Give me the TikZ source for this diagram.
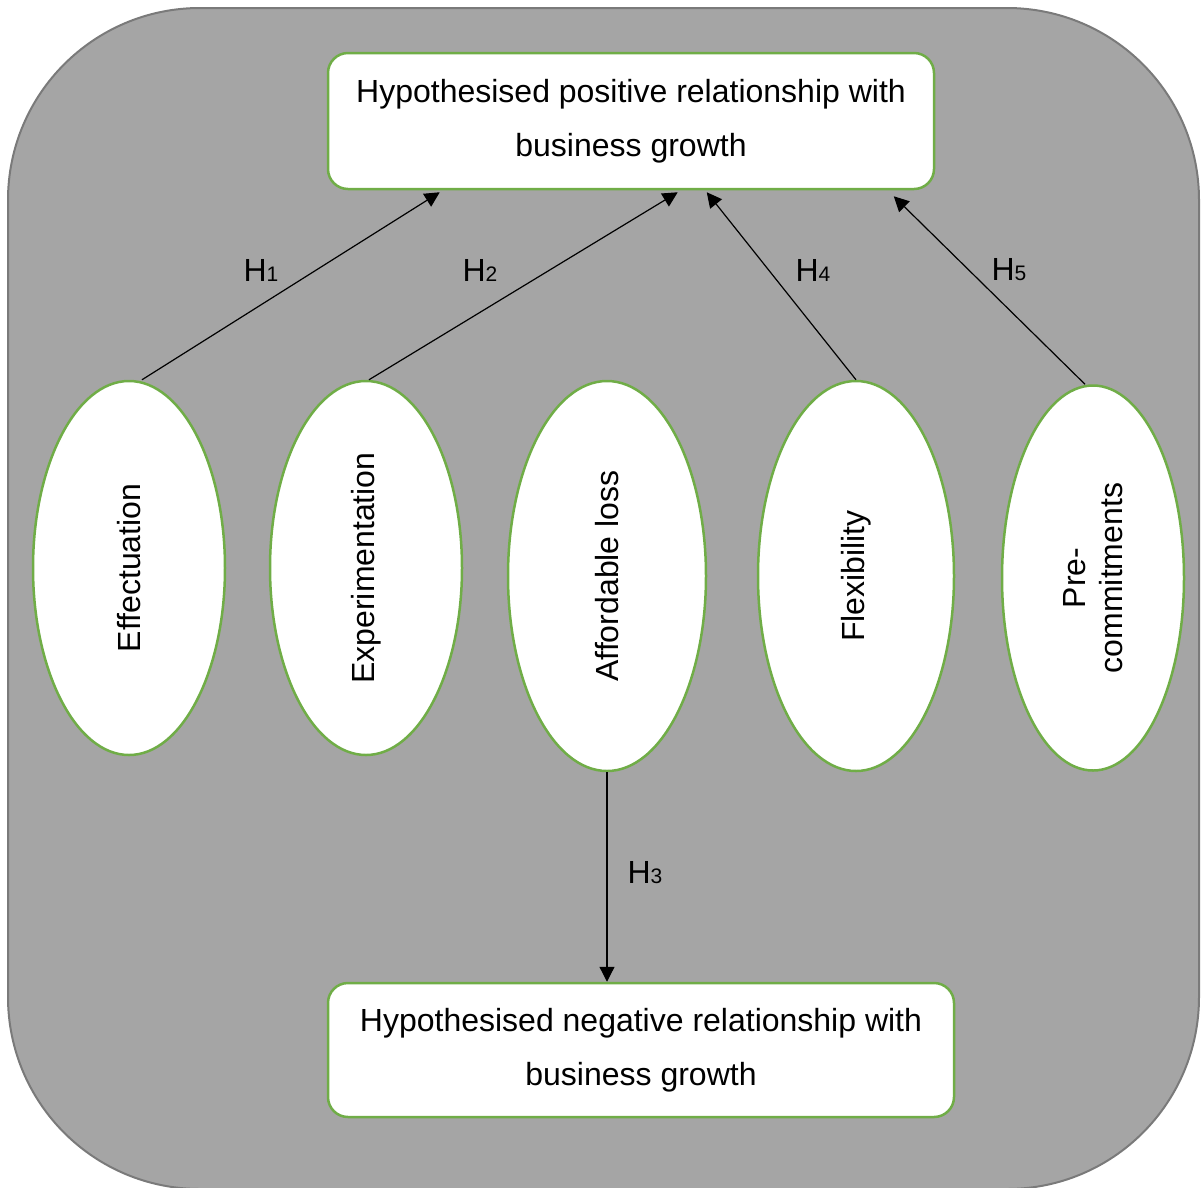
\documentclass[tikz,border=0pt]{standalone}
\usepackage{fontspec}
\setmainfont{Liberation Sans}
\usetikzlibrary{shapes.geometric,arrows.meta}
\definecolor{panelgray}{HTML}{A5A5A5}
\definecolor{panelrim}{HTML}{7A7A7A}
\definecolor{leafgreen}{HTML}{70AD47}
\newcommand{\hsub}[1]{H{\fontsize{21}{21}\selectfont #1}}
\begin{document}
\begin{tikzpicture}[x=1pt,y=-1pt,
  box/.style={draw=leafgreen, line width=2.5pt, fill=white, rounded corners=20pt,
    inner sep=0pt, align=center, font=\fontsize{32}{54}\selectfont},
  construct/.style={ellipse, draw=leafgreen, line width=2.5pt, fill=white,
    inner sep=0pt, rotate=90, align=center, font=\fontsize{32}{37}\selectfont},
  link/.style={line width=1.2pt, -{Triangle[length=15pt,width=15pt]}},
  hyp/.style={font=\fontsize{32}{32}\selectfont, inner sep=0pt}]

\useasboundingbox (0,0) rectangle (1202,1187);

% panel
\draw[fill=panelgray, draw=panelrim, line width=2pt, rounded corners=192pt]
  (8,8) rectangle (1199,1189);

% outcome boxes
\node[box, minimum width=606pt, minimum height=136pt] (pos) at (631,121)
  {Hypothesised positive relationship with\\business growth};
\node[box, minimum width=626pt, minimum height=134pt] (neg) at (641,1050)
  {Hypothesised negative relationship with\\business growth};

% constructs
\node[construct, minimum width=374pt, minimum height=192pt] (eff) at (129,568) {Effectuation};
\node[construct, minimum width=374pt, minimum height=192pt] (exp) at (366,568) {Experimentation};
\node[construct, minimum width=390pt, minimum height=198pt] (aff) at (607,576) {Affordable loss};
\node[construct, minimum width=390pt, minimum height=196pt] (flx) at (856,576) {Flexibility};
\node[construct, minimum width=385pt, minimum height=182pt] (pre) at (1093,578) {Pre-\\commitments};

% hypothesised links
\draw[link] ([xshift=13pt]eff.east) -- ([xshift=113pt,yshift=-2pt]pos.south west);
\draw[link] ([xshift=3pt]exp.east) -- ([xshift=351pt,yshift=-2pt]pos.south west);
\draw[link] (flx.east) -- ([xshift=380pt,yshift=-2pt]pos.south west);
\draw[link] ([xshift=-8pt]pre.east) -- ([xshift=567pt,yshift=-6pt]pos.south west);
\draw[link] (aff.west) -- (aff.west |- neg.north);

% labels
\node[hyp] (h1) at (261,270) {\hsub{1}};
\node[hyp] (h2) at (480,270) {\hsub{2}};
\node[hyp] (h4) at (813,270) {\hsub{4}};
\node[hyp] (h5) at (1009,270) {\hsub{5}};
\node[hyp] (h3) at (645,873) {\hsub{3}};
\end{tikzpicture}
\end{document}
